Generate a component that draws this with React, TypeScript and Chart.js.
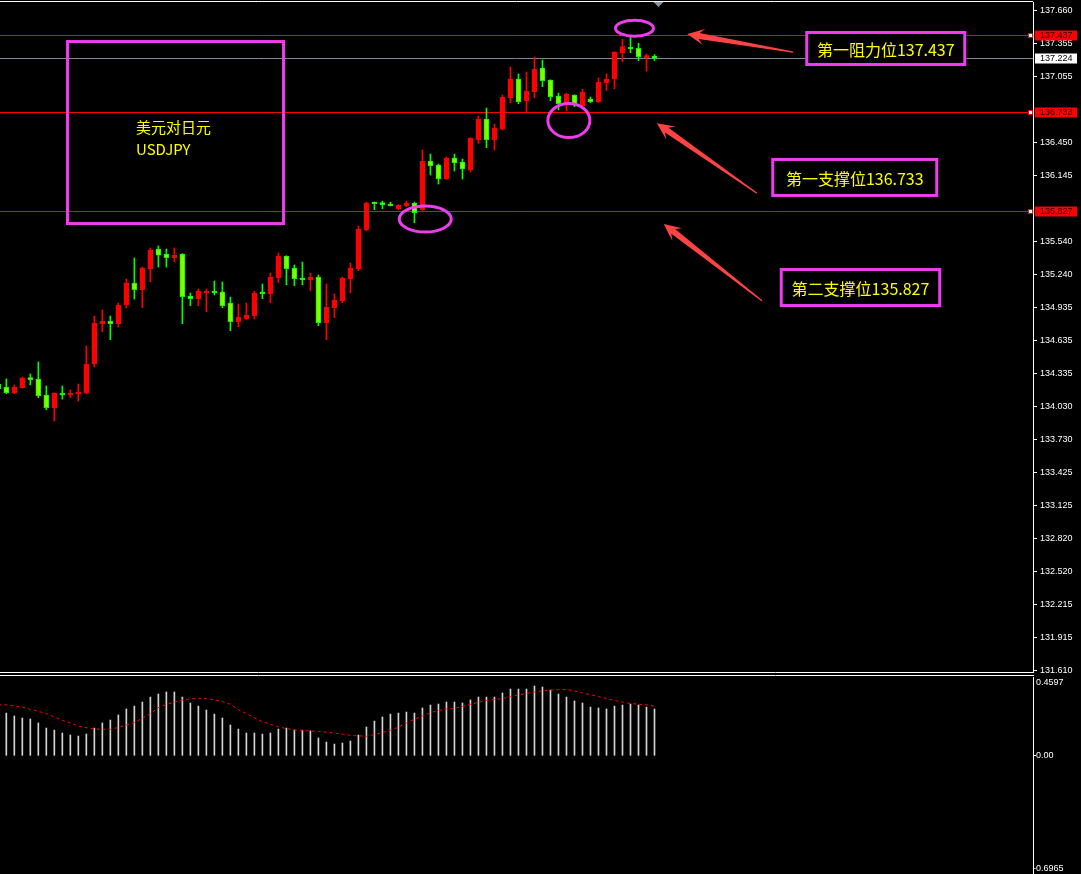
import { useEffect, useRef } from "react";
import { Chart, registerables } from "chart.js";

Chart.register(...registerables);

// ---------- DATA ----------
const firstIndex = -1; // first (partially visible) candle index

const opens = [
  134.238, 134.210, 134.155, 134.204, 134.296, 134.284, 134.137, 134.021, 134.155, 134.137,
  134.146, 134.155, 134.424, 134.791, 134.815, 134.791, 134.962, 135.164, 135.102, 135.292,
  135.475, 135.430, 135.396, 135.430, 135.045, 135.020, 135.072, 135.090, 135.081, 134.980,
  134.809, 134.836, 134.864, 135.072, 135.066, 135.212, 135.411, 135.301, 135.210, 135.194,
  135.219, 134.800, 134.937, 135.001, 135.203, 135.295, 135.650, 135.904, 135.900, 135.888,
  135.845, 135.872, 135.897, 135.833, 136.282, 136.245, 136.117, 136.310, 136.273, 136.200,
  136.477, 136.667, 136.477, 136.575, 136.862, 137.034, 136.835, 136.917, 137.135, 137.025,
  136.878, 136.807, 136.887, 136.789, 136.850, 136.826, 137.000, 137.034, 137.275, 137.324,
  137.315, 137.229, 137.245,
];
const highs = [
  134.265, 134.284, 134.229, 134.302, 134.330, 134.440, 134.220, 134.158, 134.220, 134.183,
  134.238, 134.586, 134.861, 134.916, 134.861, 134.980, 135.200, 135.393, 135.310, 135.485,
  135.503, 135.475, 135.485, 135.433, 135.072, 135.109, 135.109, 135.182, 135.173, 135.035,
  134.971, 134.980, 135.090, 135.155, 135.255, 135.439, 135.414, 135.329, 135.356, 135.255,
  135.237, 135.155, 135.063, 135.219, 135.347, 135.686, 135.906, 135.906, 135.915, 135.906,
  135.881, 135.915, 135.906, 136.383, 136.346, 136.255, 136.319, 136.346, 136.300, 136.495,
  136.695, 136.768, 136.621, 136.887, 137.144, 137.080, 137.098, 137.236, 137.208, 137.027,
  136.905, 136.905, 136.889, 136.942, 136.869, 137.043, 137.080, 137.285, 137.398, 137.422,
  137.361, 137.263, 137.258,
];
const lows = [
  134.174, 134.149, 134.150, 134.200, 134.229, 134.112, 134.002, 133.899, 134.100, 134.112,
  134.082, 134.150, 134.394, 134.717, 134.644, 134.760, 134.937, 135.017, 134.937, 135.176,
  135.310, 135.310, 135.356, 134.791, 134.956, 134.956, 134.901, 135.054, 134.937, 134.726,
  134.763, 134.830, 134.833, 135.020, 134.983, 135.167, 135.148, 135.139, 135.148, 135.093,
  134.772, 134.644, 134.846, 134.983, 135.075, 135.277, 135.643, 135.836, 135.845, 135.870,
  135.836, 135.863, 135.716, 135.830, 136.154, 136.071, 136.114, 136.190, 136.117, 136.181,
  136.444, 136.404, 136.383, 136.566, 136.817, 136.807, 136.725, 136.862, 136.963, 136.835,
  136.752, 136.743, 136.780, 136.786, 136.817, 136.817, 136.927, 136.945, 137.192, 137.275,
  137.202, 137.107, 137.203,
];
const closes = [
  134.192, 134.158, 134.210, 134.293, 134.277, 134.131, 134.021, 134.155, 134.137, 134.155,
  134.165, 134.421, 134.797, 134.815, 134.791, 134.962, 135.164, 135.102, 135.301, 135.466,
  135.420, 135.396, 135.420, 135.038, 135.020, 135.090, 135.090, 135.072, 134.956, 134.809,
  134.852, 134.870, 135.072, 135.066, 135.219, 135.411, 135.295, 135.203, 135.194, 135.219,
  134.800, 134.944, 135.008, 135.210, 135.301, 135.659, 135.897, 135.891, 135.882, 135.872,
  135.879, 135.897, 135.808, 136.282, 136.236, 136.117, 136.310, 136.264, 136.209, 136.493,
  136.667, 136.477, 136.585, 136.869, 137.034, 136.826, 136.924, 137.125, 137.018, 136.872,
  136.807, 136.896, 136.807, 136.915, 136.826, 137.006, 137.034, 137.281, 137.330, 137.309,
  137.238, 137.249, 137.224,
];

const macdHist = [
  null, 0.248, 0.231, 0.219, 0.213, 0.190, 0.160, 0.148, 0.131, 0.119,
  0.113, 0.125, 0.160, 0.190, 0.207, 0.237, 0.272, 0.289, 0.313, 0.342,
  0.360, 0.372, 0.372, 0.342, 0.307, 0.289, 0.266, 0.242, 0.219, 0.178,
  0.154, 0.131, 0.131, 0.125, 0.131, 0.154, 0.160, 0.148, 0.148, 0.143,
  0.102, 0.078, 0.066, 0.072, 0.084, 0.119, 0.166, 0.201, 0.225, 0.242,
  0.248, 0.254, 0.248, 0.278, 0.295, 0.301, 0.313, 0.313, 0.307, 0.325,
  0.342, 0.342, 0.342, 0.366, 0.389, 0.389, 0.389, 0.407, 0.401, 0.383,
  0.360, 0.342, 0.319, 0.307, 0.283, 0.278, 0.272, 0.289, 0.295, 0.301,
  0.295, 0.283, 0.272,
];
const macdSignal = [
  0.296, 0.296, 0.290, 0.283, 0.270, 0.258, 0.245, 0.225, 0.206, 0.190,
  0.172, 0.162, 0.155, 0.153, 0.153, 0.163, 0.178, 0.192, 0.218, 0.245,
  0.280, 0.298, 0.313, 0.325, 0.331, 0.335, 0.333, 0.326, 0.315, 0.300,
  0.268, 0.245, 0.220, 0.198, 0.183, 0.167, 0.157, 0.150, 0.146, 0.143,
  0.140, 0.136, 0.131, 0.125, 0.117, 0.114, 0.112, 0.122, 0.134, 0.147,
  0.165, 0.190, 0.212, 0.230, 0.250, 0.263, 0.271, 0.276, 0.287, 0.299,
  0.311, 0.322, 0.328, 0.333, 0.344, 0.355, 0.363, 0.372, 0.378, 0.383,
  0.386, 0.387, 0.378, 0.366, 0.356, 0.345, 0.333, 0.322, 0.313, 0.304,
  0.300, 0.296, 0.289,
];

const priceTicks = [
  137.660, 137.355, 137.055, 136.450, 136.145, 135.540, 135.240, 134.935, 134.635,
  134.335, 134.030, 133.730, 133.425, 133.125, 132.820, 132.520, 132.215, 131.915, 131.610,
];
const macdTicks = [0.4597, 0.0, -0.6965];

const resistanceLevels = [137.437];
const supportLevels = [136.733, 135.827];
const currentPrice = 137.224;
const levelNames = ["第一阻力位", "第一支撑位", "第二支撑位"];
const titleCN = "美元对日元";
const titleEN = "USDJPY";

// ---------- LAYOUT / STYLE ----------
const X_MIN = -0.79;
const X_MAX = 128.3;
const Y_MIN = 131.598;
const Y_MAX = 137.7397;
const AXIS_W = 48;
const RED = "#ff0000";
const GREEN_EDGE = "#00ff00";
const GREEN_FILL = "#7fff00";
const MAGENTA = "#ee3cee";
const YELLOW = "#ffff00";
const ARROW = "#ff4343";
const AXIS_FONT = "9px 'Liberation Sans', Arial, sans-serif";
const CJK_FONT = "'Noto Sans CJK SC', 'Liberation Sans', sans-serif";

const ellipseMarks = [
  { k: 78.5, price: 137.499, rx: 19, ry: 8 },
  { k: 70.3, price: 136.653, rx: 21, ry: 17 },
  { k: 52.35, price: 135.75, rx: 26, ry: 13 },
];
const arrowMarks = [
  { from: [98.34, 137.281], to: [85.09, 137.446] },
  { from: [93.8, 135.986], to: [81.3, 136.628] },
  { from: [94.43, 135.001], to: [82.16, 135.705] },
];
const labelBoxes = [
  { k: 99.84, price: 137.474, w: 161, h: 35, text: levelNames[0] + resistanceLevels[0].toFixed(3) },
  { k: 95.59, price: 136.31, w: 167, h: 39, text: levelNames[1] + supportLevels[0].toFixed(3) },
  { k: 96.65, price: 135.301, w: 161.5, h: 39, text: levelNames[2] + supportLevels[1].toFixed(3) },
];
const titleBox = { k: 7.46, price: 137.391, w: 219, h: 185 };

const idx = opens.map((_, i) => i + firstIndex);
const isUp = opens.map((o, i) => closes[i] >= o);

function drawArrow(ctx: CanvasRenderingContext2D, tip: { x: number; y: number }, tail: { x: number; y: number }) {
  const dx = tail.x - tip.x;
  const dy = tail.y - tip.y;
  const len = Math.hypot(dx, dy);
  const ux = dx / len, uy = dy / len;
  const nx = -uy, ny = ux;
  const headLen = 17, headHW = 8, neckIn = 5, neckHW = 3, tailHW = 0.6;
  const hb = { x: tip.x + ux * headLen, y: tip.y + uy * headLen };
  const nk = { x: tip.x + ux * (headLen - neckIn), y: tip.y + uy * (headLen - neckIn) };
  ctx.beginPath();
  ctx.moveTo(tip.x, tip.y);
  ctx.lineTo(hb.x + nx * headHW, hb.y + ny * headHW);
  ctx.lineTo(nk.x + nx * neckHW, nk.y + ny * neckHW);
  ctx.lineTo(tail.x + nx * tailHW, tail.y + ny * tailHW);
  ctx.lineTo(tail.x - nx * tailHW, tail.y - ny * tailHW);
  ctx.lineTo(nk.x - nx * neckHW, nk.y - ny * neckHW);
  ctx.lineTo(hb.x - nx * headHW, hb.y - ny * headHW);
  ctx.closePath();
  ctx.fillStyle = ARROW;
  ctx.fill();
}

const mainPlugin = {
  id: "mainDecor",
  beforeDatasetsDraw(chart: any) {
    const { ctx, scales, chartArea } = chart;
    const ys = scales.y;
    ctx.save();
    // current price line
    const cy = Math.round(ys.getPixelForValue(currentPrice)) + 0.5;
    ctx.strokeStyle = "#7d8a9a";
    ctx.lineWidth = 1;
    ctx.beginPath();
    ctx.moveTo(chartArea.left, cy);
    ctx.lineTo(chartArea.right, cy);
    ctx.stroke();
    // level lines
    ctx.strokeStyle = RED;
    [...resistanceLevels, ...supportLevels].forEach((lv) => {
      const y = Math.round(ys.getPixelForValue(lv)) + 0.5;
      ctx.beginPath();
      ctx.moveTo(chartArea.left, y);
      ctx.lineTo(chartArea.right, y);
      ctx.stroke();
    });
    ctx.restore();
  },
  afterDraw(chart: any) {
    const { ctx, scales, chartArea } = chart;
    const xs = scales.x, ys = scales.y;
    const px = (k: number) => xs.getPixelForValue(k);
    const py = (p: number) => ys.getPixelForValue(p);
    ctx.save();
    // frame lines
    ctx.strokeStyle = "#ffffff";
    ctx.lineWidth = 1;
    ctx.beginPath();
    ctx.moveTo(0, 1.5);
    ctx.lineTo(chartArea.right, 1.5);
    ctx.moveTo(0, chartArea.bottom + 0.5);
    ctx.lineTo(chartArea.right + 1, chartArea.bottom + 0.5);
    ctx.stroke();
    // shift marker
    const mx = px(81.5);
    ctx.fillStyle = "#8795a6";
    ctx.beginPath();
    ctx.moveTo(mx - 5, 2);
    ctx.lineTo(mx + 5, 2);
    ctx.lineTo(mx, 7);
    ctx.closePath();
    ctx.fill();

    // level markers & axis labels
    ctx.font = AXIS_FONT;
    ctx.textBaseline = "middle";
    ctx.textAlign = "left";
    const levels = [...resistanceLevels, ...supportLevels];
    levels.forEach((lv) => {
      const y = Math.round(py(lv));
      ctx.fillStyle = RED;
      ctx.fillRect(chartArea.right - 5, y - 2, 5, 5);
      ctx.fillStyle = "#ffffff";
      ctx.fillRect(chartArea.right - 4, y - 1, 3, 3);
      ctx.fillStyle = RED;
      ctx.fillRect(chartArea.right + 2, y - 4.5, 42, 10);
      ctx.fillStyle = "#2a0000";
      ctx.fillText(lv.toFixed(3), chartArea.right + 7, y + 0.5);
    });
    const cy = Math.round(py(currentPrice));
    ctx.fillStyle = "#ffffff";
    ctx.fillRect(chartArea.right + 2, cy - 4.5, 42, 10);
    ctx.fillStyle = "#000000";
    ctx.fillText(currentPrice.toFixed(3), chartArea.right + 7, cy + 0.5);

    // ellipses
    ctx.strokeStyle = MAGENTA;
    ctx.lineWidth = 3;
    ellipseMarks.forEach((e) => {
      ctx.beginPath();
      ctx.ellipse(px(e.k), py(e.price), e.rx, e.ry, 0, 0, Math.PI * 2);
      ctx.stroke();
    });

    // arrows
    arrowMarks.forEach((a) => {
      drawArrow(ctx, { x: px(a.to[0]), y: py(a.to[1]) }, { x: px(a.from[0]), y: py(a.from[1]) });
    });

    // label boxes
    labelBoxes.forEach((b) => {
      const x = px(b.k), y = py(b.price);
      ctx.fillStyle = "#000000";
      ctx.fillRect(x, y, b.w, b.h);
      ctx.strokeStyle = MAGENTA;
      ctx.lineWidth = 3;
      ctx.strokeRect(x + 1.5, y + 1.5, b.w - 3, b.h - 3);
      ctx.fillStyle = YELLOW;
      ctx.font = `16px ${CJK_FONT}`;
      ctx.textAlign = "center";
      ctx.textBaseline = "middle";
      ctx.fillText(b.text, x + b.w / 2, y + b.h / 2 + 1);
    });

    // title box
    const tx = px(titleBox.k), ty = py(titleBox.price);
    ctx.strokeStyle = MAGENTA;
    ctx.lineWidth = 3;
    ctx.strokeRect(tx + 1.5, ty + 1.5, titleBox.w - 3, titleBox.h - 3);
    ctx.fillStyle = YELLOW;
    ctx.textAlign = "left";
    ctx.textBaseline = "middle";
    ctx.font = `15px ${CJK_FONT}`;
    ctx.fillText(titleCN, tx + 70, ty + 87);
    ctx.fillText(titleEN, tx + 70, ty + 109);
    ctx.restore();
  },
};

const macdPlugin = {
  id: "macdDecor",
  afterDraw(chart: any) {
    const { ctx, scales, chartArea } = chart;
    const ys = scales.y;
    ctx.save();
    ctx.strokeStyle = "#ffffff";
    ctx.lineWidth = 1;
    ctx.beginPath();
    ctx.moveTo(0, 1.5);
    ctx.lineTo(chartArea.right + 1, 1.5);
    const zy = Math.round(ys.getPixelForValue(0)) + 0.5;
    ctx.moveTo(chartArea.right, zy);
    ctx.lineTo(chartArea.right + 3, zy);
    ctx.stroke();
    ctx.font = AXIS_FONT;
    ctx.fillStyle = "#ffffff";
    ctx.textAlign = "left";
    macdTicks.forEach((v) => {
      const y = ys.getPixelForValue(v);
      let label = v === 0 ? "0.00" : v.toFixed(4);
      if (v === macdTicks[0]) {
        ctx.textBaseline = "top";
        ctx.fillText(label, chartArea.right + 3, y + 1);
      } else if (v === macdTicks[macdTicks.length - 1]) {
        ctx.textBaseline = "bottom";
        ctx.fillText(label, chartArea.right + 0, y - 1);
      } else {
        ctx.textBaseline = "middle";
        ctx.fillText(label, chartArea.right + 3, y);
      }
    });
    ctx.restore();
  },
};

function fixAxis(s: any) {
  s.width = AXIS_W;
  s.paddingTop = 0;
  s.paddingBottom = 0;
  s.paddingLeft = 0;
  s.paddingRight = 0;
}

export default function App() {
  const mainRef = useRef<HTMLCanvasElement>(null);
  const macdRef = useRef<HTMLCanvasElement>(null);

  useEffect(() => {
    Chart.defaults.font.family = "'Liberation Sans', Arial, sans-serif";
    const bodyData = idx.map((k, i) => ({ x: k, y: [opens[i], closes[i]] }));
    const wickData = idx.map((k, i) => ({ x: k, y: [lows[i], highs[i]] }));

    const main = new Chart(mainRef.current as HTMLCanvasElement, {
      type: "bar",
      data: {
        datasets: [
          {
            label: "body",
            data: bodyData as any,
            backgroundColor: isUp.map((u) => (u ? RED : GREEN_FILL)),
            borderColor: isUp.map((u) => (u ? RED : GREEN_EDGE)),
            borderWidth: 1,
            borderSkipped: false,
            barThickness: 5,
            minBarLength: 1.5,
            grouped: false,
            order: 0,
          } as any,
          {
            label: "wick",
            data: wickData as any,
            backgroundColor: isUp.map((u) => (u ? RED : GREEN_EDGE)),
            borderWidth: 0,
            barThickness: 1,
            grouped: false,
            order: 1,
          } as any,
        ],
      },
      options: {
        animation: false,
        responsive: false,
        maintainAspectRatio: false,
        layout: { padding: { top: 2, bottom: 2, left: 0, right: 0 } },
        plugins: { legend: { display: false }, tooltip: { enabled: false } },
        scales: {
          x: { type: "linear", min: X_MIN, max: X_MAX, display: false, offset: false },
          y: {
            position: "right",
            min: Y_MIN,
            max: Y_MAX,
            afterFit: fixAxis,
            afterBuildTicks: (s: any) => {
              s.ticks = priceTicks.map((v) => ({ value: v }));
            },
            ticks: {
              autoSkip: false,
              color: "#ffffff",
              padding: 3,
              font: { size: 9, family: "'Liberation Sans', Arial, sans-serif" },
              callback: (v: any) => Number(v).toFixed(3),
            },
            grid: { drawOnChartArea: false, color: "#ffffff", tickLength: 4 },
            border: { color: "#ffffff" },
          } as any,
        },
      },
      plugins: [mainPlugin],
    });

    const macd = new Chart(macdRef.current as HTMLCanvasElement, {
      type: "bar",
      data: {
        datasets: [
          {
            type: "line",
            label: "signal",
            data: idx.map((k, i) => ({ x: k, y: macdSignal[i] })) as any,
            borderColor: RED,
            borderWidth: 1,
            borderDash: [3, 3],
            pointRadius: 0,
            tension: 0,
            order: 0,
          } as any,
          {
            type: "bar",
            label: "macd",
            data: idx.map((k, i) => ({ x: k, y: macdHist[i] })) as any,
            backgroundColor: "#d4d4d4",
            barThickness: 1,
            grouped: false,
            order: 1,
          } as any,
        ],
      },
      options: {
        animation: false,
        responsive: false,
        maintainAspectRatio: false,
        layout: { padding: { top: 3, bottom: 0, left: 0, right: 0 } },
        plugins: { legend: { display: false }, tooltip: { enabled: false } },
        scales: {
          x: { type: "linear", min: X_MIN, max: X_MAX, display: false, offset: false },
          y: {
            position: "right",
            min: macdTicks[2],
            max: macdTicks[0],
            afterFit: fixAxis,
            ticks: { display: false },
            grid: { display: false },
            border: { color: "#ffffff" },
          } as any,
        },
      },
      plugins: [macdPlugin],
    });

    return () => {
      main.destroy();
      macd.destroy();
    };
  }, []);

  return (
    <div
      style={{
        position: "fixed",
        left: 0,
        top: 0,
        width: 1081,
        height: 874,
        background: "#000000",
        overflow: "hidden",
      }}
    >
      <canvas
        ref={mainRef}
        width={1081}
        height={674}
        style={{ position: "absolute", left: 0, top: 0, width: 1081, height: 674 }}
      />
      <canvas
        ref={macdRef}
        width={1081}
        height={200}
        style={{ position: "absolute", left: 0, top: 674, width: 1081, height: 200 }}
      />
    </div>
  );
}
